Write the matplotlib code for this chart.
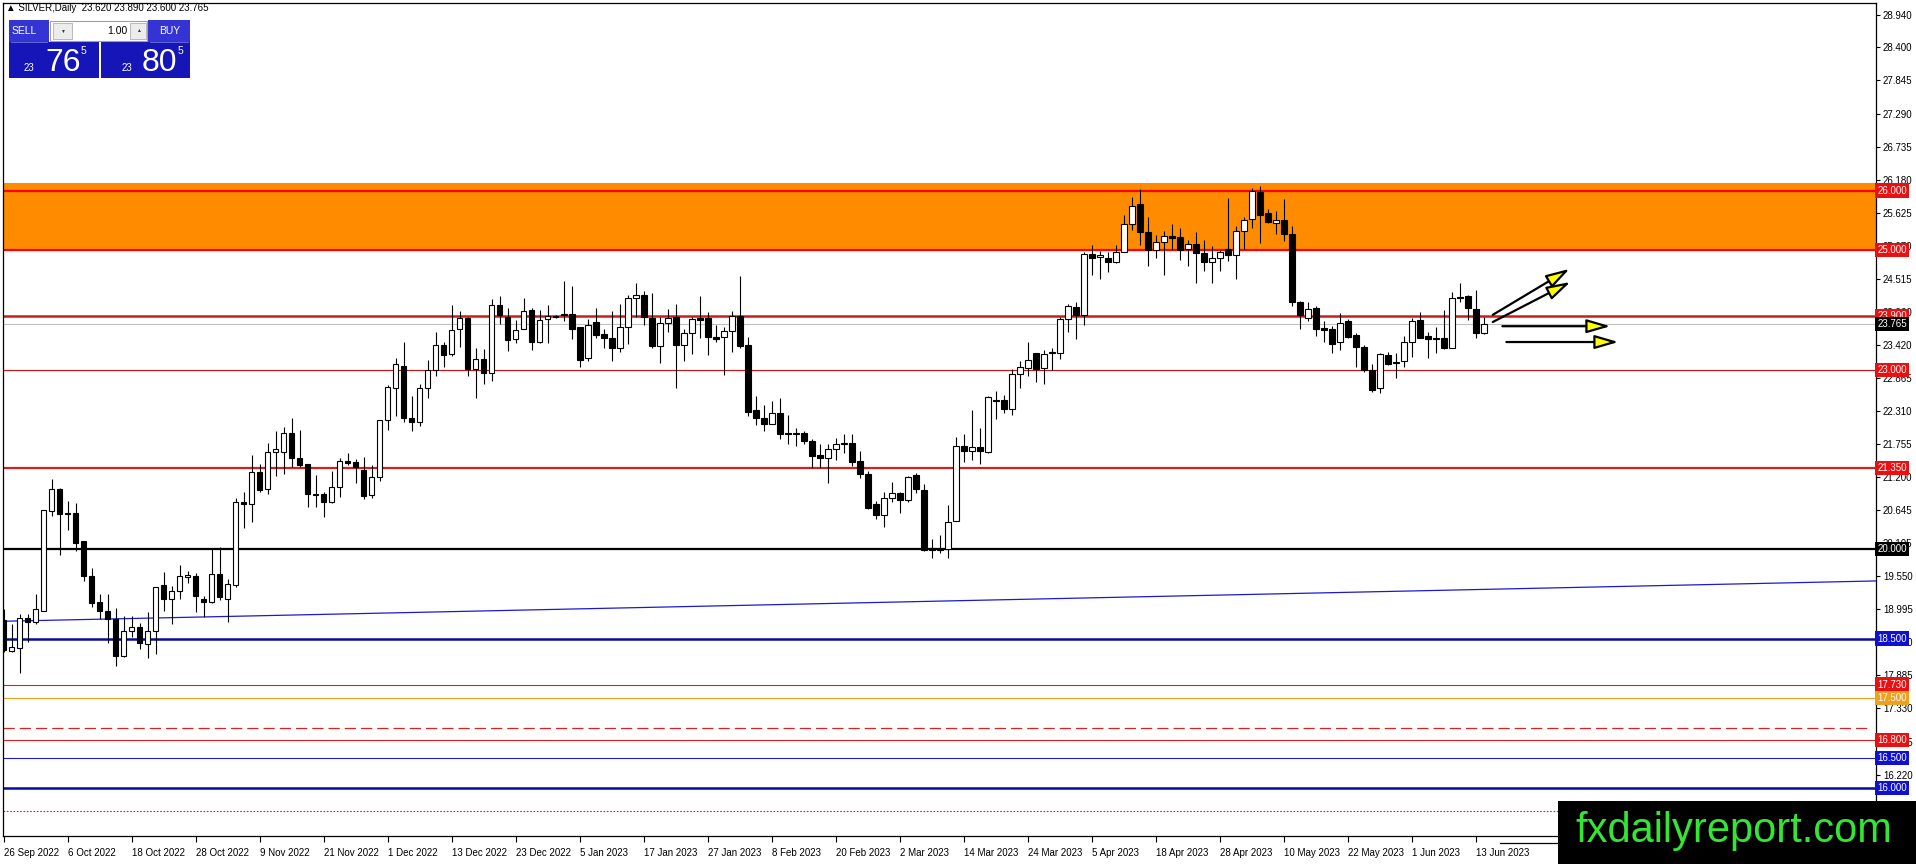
import numpy as np
import matplotlib
matplotlib.use("Agg")
import matplotlib.pyplot as plt
from matplotlib.patches import Rectangle

plt.rcParams['font.family'] = ['Liberation Sans', 'DejaVu Sans']

# daily SILVER candles, 26 Sep 2022 .. 14 Jun 2023
opens = [18.81, 18.30, 18.35, 18.84, 18.77, 18.97, 20.64, 21.01, 20.60, 20.60,
         20.13, 19.55, 19.11, 18.97, 18.83, 18.21, 18.62, 18.69, 18.41, 18.63,
         19.39, 19.17, 19.30, 19.53, 19.55, 19.17, 19.11, 19.58, 19.17, 19.40,
         20.78, 20.75, 21.29, 21.00, 21.63, 21.63, 21.94, 21.52, 21.42, 20.92,
         20.92, 20.79, 21.03, 21.48, 21.45, 21.33, 20.90, 21.21, 22.16, 22.69,
         23.06, 22.20, 22.13, 22.69, 22.99, 23.42, 23.26, 23.68, 23.86, 23.01,
         23.18, 22.94, 24.08, 23.89, 23.51, 23.69, 24.00, 23.47, 23.85, 23.89,
         23.93, 23.94, 23.71, 23.19, 23.80, 23.60, 23.54, 23.36, 23.71, 24.21,
         24.25, 23.87, 23.40, 23.79, 23.89, 23.42, 23.61, 23.87, 23.87, 23.55,
         23.55, 23.65, 23.90, 23.41, 22.33, 22.20, 22.10, 22.27, 21.94, 21.95,
         21.94, 21.81, 21.57, 21.52, 21.68, 21.77, 21.77, 21.47, 21.25, 20.75,
         20.57, 20.85, 20.93, 20.82, 21.24, 20.98, 20.02, 19.99, 20.00, 20.47,
         21.73, 21.64, 21.71, 21.63, 22.50, 22.49, 22.34, 22.93, 23.03, 23.28,
         23.03, 23.28, 23.28, 23.85, 24.05, 23.92, 24.94, 24.89, 24.88, 24.81,
         24.97, 25.44, 25.77, 25.30, 25.01, 25.14, 25.24, 25.22, 25.03, 25.10,
         24.95, 24.81, 24.88, 25.02, 24.93, 25.32, 25.52, 25.98, 25.62, 25.46,
         25.50, 25.27, 24.13, 23.86, 24.03, 23.70, 23.69, 23.46, 23.81, 23.58,
         23.39, 23.00, 22.69, 23.25, 23.13, 23.14, 23.46, 23.83, 23.57, 23.53,
         23.54, 23.37, 24.22, 24.24, 24.01, 23.62]
highs = [19.00, 18.75, 18.92, 18.92, 19.25, 20.66, 21.18, 21.02, 20.81, 20.77,
         20.13, 19.68, 19.25, 19.25, 19.02, 18.88, 18.87, 18.76, 18.94, 19.36,
         19.61, 19.38, 19.73, 19.63, 19.59, 19.21, 20.01, 20.04, 19.49, 20.85,
         20.96, 21.57, 21.43, 21.77, 21.98, 22.05, 22.19, 21.99, 21.42, 21.24,
         20.95, 21.30, 21.53, 21.61, 21.50, 21.54, 21.41, 22.16, 22.75, 23.19,
         23.47, 22.56, 22.76, 23.16, 23.63, 23.46, 24.09, 23.99, 23.89, 23.36,
         23.34, 24.18, 24.24, 24.03, 23.83, 24.21, 24.03, 24.00, 24.08, 23.92,
         24.49, 24.40, 23.71, 23.85, 24.03, 23.69, 23.98, 24.11, 24.25, 24.45,
         24.32, 24.28, 23.89, 24.01, 24.10, 23.68, 23.89, 24.24, 23.96, 23.75,
         23.72, 23.98, 24.57, 23.55, 22.56, 22.41, 22.48, 22.52, 22.24, 22.03,
         21.98, 21.84, 21.75, 21.75, 21.86, 21.92, 21.92, 21.64, 21.31, 20.80,
         20.95, 21.12, 20.95, 21.23, 21.27, 21.09, 20.17, 20.23, 20.74, 21.87,
         21.92, 22.33, 22.02, 22.56, 22.65, 22.58, 23.01, 23.15, 23.46, 23.28,
         23.33, 23.37, 23.89, 24.11, 24.14, 24.97, 25.09, 24.99, 24.97, 25.09,
         25.60, 25.90, 26.02, 25.56, 25.25, 25.32, 25.44, 25.38, 25.17, 25.30,
         25.17, 25.08, 25.00, 25.87, 25.41, 25.55, 26.04, 26.07, 25.69, 25.66,
         25.86, 25.41, 24.15, 24.14, 24.06, 23.81, 23.74, 23.95, 23.85, 23.61,
         23.42, 23.09, 23.28, 23.30, 23.28, 23.56, 23.86, 23.97, 23.63, 23.71,
         24.00, 24.31, 24.46, 24.25, 24.34, 23.89]
lows = [18.28, 18.28, 17.93, 18.45, 18.75, 18.96, 20.55, 19.90, 20.32, 19.96,
        19.47, 19.03, 18.82, 18.42, 18.04, 18.20, 18.53, 18.32, 18.18, 18.24,
        18.97, 18.74, 19.17, 19.43, 18.95, 18.86, 19.10, 19.15, 18.78, 19.36,
        20.35, 20.45, 20.95, 20.92, 21.23, 21.26, 21.38, 21.37, 20.71, 20.71,
        20.54, 20.77, 20.87, 21.41, 21.11, 20.83, 20.86, 21.14, 22.00, 22.23,
        22.12, 21.98, 22.06, 22.53, 22.90, 23.04, 23.23, 23.38, 22.90, 22.53,
        22.77, 22.82, 23.77, 23.31, 23.45, 23.69, 23.33, 23.45, 23.45, 23.87,
        23.82, 23.52, 23.05, 23.14, 23.53, 23.36, 23.15, 23.29, 23.44, 23.89,
        23.75, 23.36, 23.11, 23.63, 22.70, 23.15, 23.27, 23.54, 23.24, 23.47,
        22.92, 23.30, 23.36, 22.23, 22.08, 21.98, 22.09, 21.84, 21.76, 21.73,
        21.75, 21.36, 21.36, 21.11, 21.49, 21.60, 21.39, 21.19, 20.67, 20.50,
        20.36, 20.79, 20.60, 20.79, 20.93, 19.97, 19.85, 19.93, 19.85, 20.47,
        21.45, 21.49, 21.42, 21.60, 22.18, 22.27, 22.25, 22.70, 22.90, 22.79,
        22.77, 22.99, 23.18, 23.64, 23.51, 23.75, 24.58, 24.52, 24.64, 24.78,
        24.97, 25.34, 25.09, 24.74, 24.88, 24.58, 25.01, 24.84, 24.73, 24.45,
        24.65, 24.46, 24.65, 24.82, 24.52, 25.03, 25.38, 25.12, 25.45, 25.27,
        25.16, 24.07, 23.68, 23.81, 23.57, 23.47, 23.28, 23.33, 23.53, 23.05,
        22.97, 22.63, 22.62, 23.08, 22.87, 23.05, 23.22, 23.53, 23.19, 23.28,
        23.34, 23.36, 24.14, 23.83, 23.54, 23.60]
closes = [18.31, 18.36, 18.84, 18.77, 18.99, 20.65, 21.01, 20.59, 20.58, 20.10,
          19.55, 19.10, 18.97, 18.83, 18.21, 18.63, 18.69, 18.42, 18.62, 19.36,
          19.17, 19.29, 19.54, 19.56, 19.21, 19.11, 19.58, 19.19, 19.41, 20.79,
          20.75, 21.29, 20.99, 21.62, 21.67, 21.94, 21.52, 21.41, 20.92, 20.90,
          20.79, 21.03, 21.48, 21.44, 21.38, 20.89, 21.21, 22.16, 22.71, 23.10,
          22.20, 22.13, 22.69, 22.99, 23.42, 23.25, 23.67, 23.86, 23.01, 23.18,
          22.94, 24.08, 23.91, 23.50, 23.67, 23.99, 23.47, 23.83, 23.90, 23.90,
          23.91, 23.69, 23.17, 23.75, 23.59, 23.54, 23.36, 23.71, 24.20, 24.25,
          23.89, 23.40, 23.78, 23.86, 23.42, 23.61, 23.85, 23.84, 23.55, 23.52,
          23.65, 23.90, 23.40, 22.30, 22.20, 22.10, 22.27, 21.92, 21.92, 21.93,
          21.80, 21.55, 21.52, 21.67, 21.75, 21.76, 21.45, 21.25, 20.69, 20.57,
          20.85, 20.93, 20.82, 21.20, 21.00, 19.99, 19.98, 20.00, 20.46, 21.73,
          21.64, 21.71, 21.64, 22.54, 22.48, 22.34, 22.93, 23.04, 23.17, 23.01,
          23.26, 23.29, 23.85, 24.06, 23.91, 24.94, 24.88, 24.92, 24.80, 24.97,
          25.44, 25.75, 25.30, 25.01, 25.14, 25.24, 25.21, 25.01, 25.10, 24.95,
          24.81, 24.87, 24.97, 24.93, 25.32, 25.50, 25.99, 25.60, 25.48, 25.50,
          25.27, 24.13, 23.92, 24.02, 23.68, 23.67, 23.44, 23.78, 23.55, 23.39,
          23.00, 22.66, 23.26, 23.10, 23.11, 23.46, 23.82, 23.54, 23.51, 23.51,
          23.36, 24.21, 24.21, 24.03, 23.61, 23.765]

date_labels = ['26 Sep 2022', '6 Oct 2022', '18 Oct 2022', '28 Oct 2022', '9 Nov 2022',
               '21 Nov 2022', '1 Dec 2022', '13 Dec 2022', '23 Dec 2022', '5 Jan 2023',
               '17 Jan 2023', '27 Jan 2023', '8 Feb 2023', '20 Feb 2023', '2 Mar 2023',
               '14 Mar 2023', '24 Mar 2023', '5 Apr 2023', '18 Apr 2023', '28 Apr 2023',
               '10 May 2023', '22 May 2023', '1 Jun 2023', '13 Jun 2023']
price_ticks = [28.940, 28.400, 27.845, 27.290, 26.735, 26.180, 25.625, 25.070, 24.515,
               23.960, 23.420, 22.865, 22.310, 21.755, 21.200, 20.645, 20.105, 19.550,
               18.995, 18.440, 17.885, 17.330, 16.775, 16.220, 15.665]

# horizontal levels: price, line colour, width, style, label box colour (None = no label)
level_prices = [26.0, 25.0, 23.9, 23.0, 21.35, 20.0, 18.5, 17.73, 17.5, 17.0, 16.8, 16.5, 16.0, 15.61]
level_colors = ['#ff0000', '#ff0000', '#c81e1e', '#d01010', '#d42020', '#000000', '#0a0a9c',
                '#e02020', '#f0a020', '#e02020', '#e02020', '#1c1cc8', '#0a0a9c', '#e02020']
level_widths = [1.6, 1.6, 1.8, 0.8, 1.6, 1.6, 1.8, 0.8, 0.8, 0.9, 0.8, 0.8, 1.8, 0.8]
level_styles = ['-', '-', '-', '-', '-', '-', '-', '-', '-', (0, (9, 4)), '-', '-', '-', (0, (1.5, 1.5))]
level_boxes = ['#e81010', '#e81010', '#e81010', '#e81010', '#e81010', '#000000', '#1010d0',
               '#e81010', '#f0a020', None, '#e81010', '#1010d0', '#1010d0', None]

band = [25.0, 26.12]
trend = [18.79, 19.465]
bid = 23.765

# arrow annotations: (start index, start price, tip index, tip price)
arrows = [(186.1, 23.92, 195.7, 24.69),
          (186.1, 23.80, 195.8, 24.47),
          (187.3, 23.73, 200.8, 23.73),
          (187.8, 23.465, 201.8, 23.465)]

W, H = 1916, 864
fig = plt.figure(figsize=(W / 100, H / 100), dpi=100)
fig.patch.set_facecolor('white')
ax = fig.add_axes([3 / W, (H - 835.7) / H, 1873 / W, 833 / H])
ax.set_facecolor('white')
xmin, xmax = -0.1, 234.0
ax.set_xlim(xmin, xmax)
ax.set_ylim(15.20, 29.146)

# orange zone
ax.axhspan(band[0], band[1], color='#ff8c00', zorder=0.5, lw=0)

for p, c, w, s, b in zip(level_prices, level_colors, level_widths, level_styles, level_boxes):
    xm = 0.996 if p == 17.0 else 1.0
    ax.axhline(p, xmin=0, xmax=xm, color=c, lw=w, ls=s, zorder=1)
ax.axhline(bid, color='#c0c0c0', lw=0.8, zorder=1)
ax.plot([xmin, xmax], trend, color='#1a1ad0', lw=0.9, zorder=1)

# candles
idx = np.arange(len(opens))
o = np.array(opens); h = np.array(highs); l = np.array(lows); c = np.array(closes)
up = c >= o
ax.vlines(idx, l, h, color='black', lw=0.8, zorder=3)
bottom = np.minimum(o, c)
height = np.maximum(np.abs(c - o), 0.012)
ax.bar(idx, height, bottom=bottom, width=0.66, color=np.where(up, 'white', 'black'),
       edgecolor='black', lw=0.8, zorder=4)

# arrows
for x0, y0, x1, y1 in arrows:
    ax.annotate('', xy=(x1, y1), xytext=(x0, y0),
                arrowprops=dict(arrowstyle='-|>,head_length=1.2,head_width=0.35',
                                fc='#ffff00', ec='black', lw=1.6,
                                shrinkA=0, shrinkB=0, mutation_scale=12),
                zorder=6)

# axes styling
for sp in ax.spines.values():
    sp.set_color('black')
    sp.set_linewidth(0.9)
ax.yaxis.tick_right()
ax.set_yticks(price_ticks)
ax.set_yticklabels(['%.3f' % v for v in price_ticks])
ax.tick_params(axis='y', direction='out', length=3, width=0.8, pad=2, labelsize=7, colors='black')
ax.set_xticks(np.arange(len(date_labels)) * 8)
ax.set_xticklabels(date_labels)
ax.tick_params(axis='x', direction='out', length=4, width=0.8, pad=5, labelsize=7, colors='black')
for t in ax.get_xticklabels():
    t.set_ha('left')
for t in ax.get_yticklabels():
    t.set_ha('left')

# coloured price labels on the right scale
ytr = ax.get_yaxis_transform()
for p, b in zip(level_prices, level_boxes):
    if b is None:
        continue
    ax.text(1.0 + 1.5 / 1873, p, '%.3f' % p, transform=ytr, color='white', fontsize=7,
            ha='left', va='center', clip_on=False, zorder=20,
            bbox=dict(boxstyle='square,pad=0.22', fc=b, ec='none'))
ax.text(1.0 + 1.5 / 1873, bid, '%.3f' % bid, transform=ytr, color='white', fontsize=7,
        ha='left', va='center', clip_on=False, zorder=21,
        bbox=dict(boxstyle='square,pad=0.22', fc='black', ec='none'))

# pixel overlay for header, trade panel and watermark
ov = fig.add_axes([0, 0, 1, 1], zorder=10)
ov.set_xlim(0, W)
ov.set_ylim(H, 0)
ov.axis('off')
ov.patch.set_alpha(0)

ov.text(6, 8, '\u25b2 SILVER,Daily  23.620 23.890 23.600 23.765', fontsize=7, va='center', ha='left')

blue_top = '#3434d4'
blue_low = '#1616b8'
ov.add_patch(Rectangle((9, 20), 40, 22, fc=blue_top, ec='none'))
ov.add_patch(Rectangle((148, 20), 42, 22, fc=blue_top, ec='none'))
ov.add_patch(Rectangle((9, 42), 90, 36, fc=blue_low, ec='none'))
ov.add_patch(Rectangle((101, 42), 89, 36, fc=blue_low, ec='none'))
ov.plot([11, 47], [41.5, 41.5], color='#7070e0', lw=0.6)
ov.plot([150, 188], [41.5, 41.5], color='#7070e0', lw=0.6)
ov.add_patch(Rectangle((50, 21), 97, 20, fc='white', ec='#a0a0a0', lw=0.8))
ov.add_patch(Rectangle((53, 23), 19, 16, fc='#ececec', ec='#b0b0b0', lw=0.6))
ov.add_patch(Rectangle((130, 23), 16, 16, fc='#ececec', ec='#b0b0b0', lw=0.6))
ov.text(62.5, 31, '\u25bc', fontsize=3.5, ha='center', va='center', color='#303030')
ov.text(138, 31, '\u25b2', fontsize=3.5, ha='center', va='center', color='#303030')
ov.text(127, 31, '1.00', fontsize=7.5, ha='right', va='center')
ov.text(12, 31, 'SELL', fontsize=7.5, ha='left', va='center', color='white')
ov.text(159, 31, 'BUY', fontsize=7.5, ha='left', va='center', color='white')
ov.text(24, 71, '23', fontsize=7, ha='left', va='baseline', color='white')
ov.text(45, 71, '76', fontsize=23, ha='left', va='baseline', color='white')
ov.text(81, 54, '5', fontsize=7.5, ha='left', va='baseline', color='white')
ov.text(122, 71, '23', fontsize=7, ha='left', va='baseline', color='white')
ov.text(142, 71, '80', fontsize=23, ha='left', va='baseline', color='white')
ov.text(178, 54, '5', fontsize=7.5, ha='left', va='baseline', color='white')

ov.plot([1500, 1560], [843, 843], color='black', lw=0.9)
ov.add_patch(Rectangle((1558, 801), W - 1558, H - 801, fc='black', ec='none'))
ov.text(1575, 842, 'fxdailyreport.com', fontsize=30, color='#33e633', ha='left', va='baseline',
        family=['Liberation Sans', 'DejaVu Sans'])

fig.savefig('out.png', dpi=100)
